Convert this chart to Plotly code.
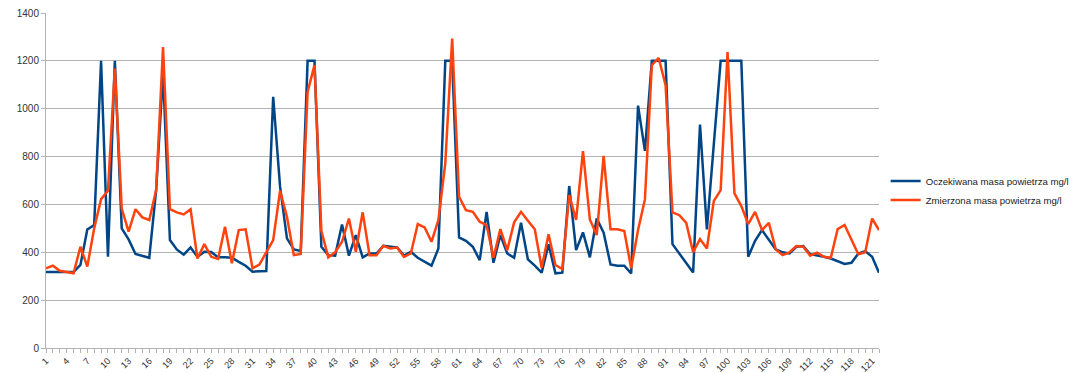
import plotly.graph_objects as go

categories = list(range(1, 123))

oczekiwana = [
    318, 318, 318, 318, 318, 347, 495, 514, 1200, 381,
    1200, 500, 454, 393, 384, 377, 660, 1150, 451, 412,
    390, 420, 381, 402, 401, 379, 379, 377, 360, 344,
    319, 319, 322, 1050, 674, 458, 412, 406, 1200, 1200,
    423, 388, 386, 516, 386, 472, 379, 395, 395, 427,
    423, 420, 386, 402, 377, 360, 344, 416, 1200, 1200,
    462, 448, 423, 367, 569, 356, 472, 395, 377, 523,
    370, 344, 315, 433, 312, 315, 677, 409, 483, 379,
    541, 482, 349, 344, 344, 312, 1013, 824, 1200, 1200,
    1200, 434, 395, 356, 316, 934, 496, 850, 1200, 1200,
    1200, 1200, 381, 448, 493, 454, 412, 400, 395, 423,
    426, 392, 388, 381, 374, 363, 351, 356, 395, 405,
    381, 315,
]

zmierzona = [
    333, 344, 323, 319, 312, 423, 340, 500, 622, 657,
    1168, 583, 486, 580, 546, 535, 660, 1258, 580, 567,
    558, 580, 374, 434, 381, 372, 507, 354, 493, 496,
    333, 349, 402, 451, 657, 548, 388, 393, 1070, 1182,
    490, 379, 400, 444, 541, 402, 567, 388, 388, 427,
    416, 420, 381, 395, 518, 504, 444, 535, 771, 1293,
    632, 576, 569, 528, 514, 377, 497, 409, 525, 569,
    532, 496, 335, 475, 347, 330, 639, 535, 823, 537,
    472, 803, 496, 496, 489, 333, 493, 621, 1182, 1212,
    1098, 567, 555, 523, 400, 455, 416, 614, 660, 1237,
    646, 593, 518, 569, 493, 523, 412, 388, 400, 426,
    423, 386, 398, 381, 377, 497, 514, 454, 392, 400,
    541, 493,
]

series_names = ["Oczekiwana masa powietrza mg/l", "Zmierzona masa powietrza mg/l"]
tick_labels = [str(v) for v in range(1, 122, 3)]
y_ticks = list(range(0, 1401, 200))

fig = go.Figure()
fig.add_trace(go.Scatter(x=categories, y=oczekiwana, mode="lines", name=series_names[0],
                         line=dict(color="#004586", width=2.5)))
fig.add_trace(go.Scatter(x=categories, y=zmierzona, mode="lines", name=series_names[1],
                         line=dict(color="#ff420e", width=2.5)))

fig.update_layout(
    width=1074, height=373,
    margin=dict(l=46, r=195, t=13, b=25, autoexpand=False),
    paper_bgcolor="white", plot_bgcolor="white",
    font=dict(family="Liberation Sans, Arial, sans-serif", size=10, color="#333333"),
    legend=dict(x=1.008, y=0.47, xanchor="left", yanchor="middle",
                font=dict(size=9.6, color="#222222"), bgcolor="rgba(0,0,0,0)",
                itemwidth=30, tracegroupgap=0),
    showlegend=True,
)
fig.update_xaxes(
    range=[1, 122], tickmode="array",
    tickvals=[int(t) for t in tick_labels], ticktext=tick_labels,
    tickangle=-45, showgrid=False, showline=True, linecolor="#b3b3b3", linewidth=1,
    ticks="outside", ticklen=3, tickcolor="#b3b3b3",
    minor=dict(dtick=1, tick0=1, ticks="outside", ticklen=4, tickcolor="#b3b3b3", showgrid=False),
    zeroline=False, automargin=False, tickfont=dict(size=9.2),
)
fig.update_yaxes(
    range=[0, 1400], tickmode="array", tickvals=y_ticks,
    showgrid=True, gridcolor="#b3b3b3", gridwidth=1,
    showline=True, linecolor="#b3b3b3", linewidth=1,
    ticks="outside", ticklen=4, tickcolor="#b3b3b3",
    zeroline=False, automargin=False, tickfont=dict(size=10),
)

fig.write_html("out.html", config={"displayModeBar": False},
               post_script="document.body.style.margin='0';document.body.style.overflow='hidden';")
